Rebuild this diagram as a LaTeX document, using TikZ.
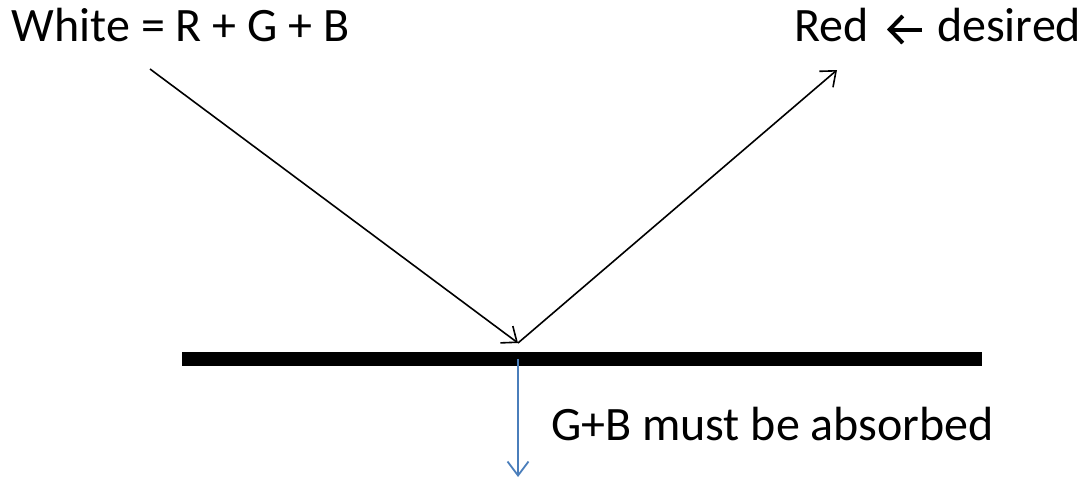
\documentclass[tikz,border=0pt]{standalone}
\usepackage{fontspec}
\setmainfont{Carlito}
\usetikzlibrary{arrows.meta}
\definecolor{officeblue}{RGB}{74,126,187}
\tikzset{
  lbl/.style={inner sep=0pt, outer sep=0pt, anchor=base west, font=\fontsize{48}{58}\selectfont},
  ray/.style={draw=black, line width=1.6pt, -{Straight Barb[length=13pt,width=21pt,line width=1.6pt]}},
  absorb/.style={draw=officeblue, line width=1.8pt, -{Straight Barb[length=14pt,width=21pt,line width=1.8pt]}},
  surface/.style={draw=black, line width=14pt},
  glypharrow/.style={draw=black, line width=4pt, -{Straight Barb[length=13pt,width=27pt,line width=4pt]}},
}
\begin{document}
\begin{tikzpicture}[x=1pt,y=-1pt]
\useasboundingbox (0,0) rectangle (1082,479);
% texts
\node[lbl] (white) at (12,41) {White = R + G + B};
\node[lbl] (red) at (794,41) {Red};
\node[lbl] (desired) at (937,41) {desired};
\node[lbl] (gb) at (551,440) {G+B must be absorbed};
% small arrow in label
\coordinate (sa1) at (922,29.5);
\coordinate (sa2) at (887,29.5);
\draw[glypharrow] (sa1) -- (sa2);
% surface
\coordinate (barL) at (182,359);
\coordinate (barR) at (982,359);
\draw[surface] (barL) -- (barR);
% rays
\coordinate (src) at (150,69);
\coordinate (hit) at (518,343);
\coordinate (dst) at (837,70);
\draw[ray] (src) -- (hit);
\draw[ray] (hit) -- (dst);
% absorbed
\coordinate (abs1) at (518,359);
\coordinate (abs2) at (518,477);
\draw[absorb] (abs1) -- (abs2);
\end{tikzpicture}
\end{document}
